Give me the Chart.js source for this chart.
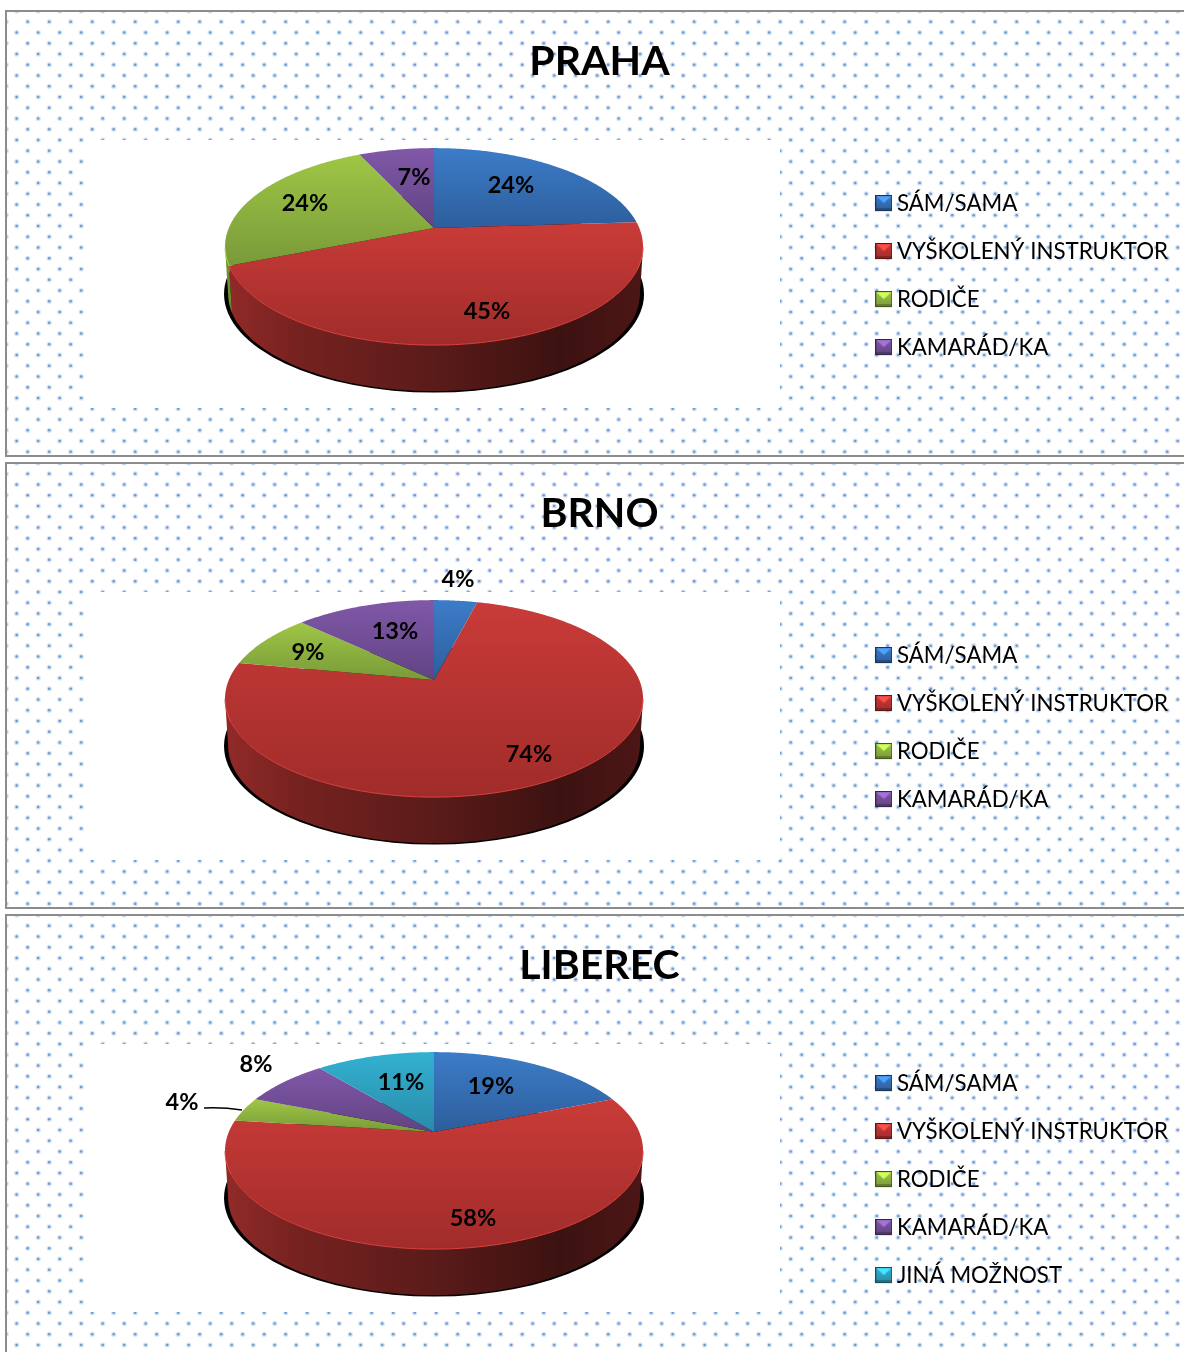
<!DOCTYPE html>
<html>
<head>
<meta charset="utf-8">
<script src="https://cdn.jsdelivr.net/npm/chart.js@4/dist/chart.umd.js"></script>
<style>
html,body{margin:0;padding:0;width:1184px;height:1352px;overflow:hidden;background:#fff}
canvas{position:absolute;left:0;display:block}
</style>
</head>
<body>
<canvas id="c0" width="1210" height="458" style="top:0"></canvas>
<canvas id="c1" width="1210" height="458" style="top:452px"></canvas>
<canvas id="c2" width="1210" height="458" style="top:904px"></canvas>
<script>
const titles = ['PRAHA', 'BRNO', 'LIBEREC'];
const categoriesShort = ['SÁM/SAMA', 'VYŠKOLENÝ INSTRUKTOR', 'RODIČE', 'KAMARÁD/KA'];
const categoriesLong = ['SÁM/SAMA', 'VYŠKOLENÝ INSTRUKTOR', 'RODIČE', 'KAMARÁD/KA', 'JINÁ MOŽNOST'];
const valuesPraha = [24, 45, 24, 7];
const valuesBrno = [4, 74, 9, 13];
const valuesLiberec = [19, 58, 4, 8, 11];

// label centres inside each panel (text placement only)
const labelsPraha = [[511,185],[487,311],[305,203],[414,177]];
const labelsBrno = [[458,127],[529,302],[308,200],[395,179]];
const labelsLiberec = [[491,182],[473,314],[182,198],[256,160],[401,178]];

const topColors = ['#3C7CC8','#C93B38','#9FC645','#8058A8','#33B1D2'];
const bottomColors = ['#2D5E9C','#A02C2A','#789A3A','#614383','#2A8AA8'];

const FONT = 'Lato, Carlito, sans-serif';
const TILT = {ry: 98.5, perspective: -0.188, centreLift: 29, centreShift: -4.5, depth: 47.5};

function rgb(h){return [1,3,5].map(i=>parseInt(h.substr(i,2),16));}
function shade(h,f){const c=rgb(h);return 'rgb('+c.map(v=>Math.min(255,Math.round(v*f))).join(',')+')';}

function bevel(i){
  const c=document.createElement('canvas');c.width=17;c.height=17;
  const x=c.getContext('2d');const w=17,h=16,t=topColors[i],b=bottomColors[i];
  const g=x.createLinearGradient(0,0,0,h);g.addColorStop(0,t);g.addColorStop(1,b);
  x.fillStyle=g;x.fillRect(0,0,w,h);
  const poly=(pts,col)=>{x.fillStyle=col;x.beginPath();pts.forEach((p,k)=>k?x.lineTo(p[0],p[1]):x.moveTo(p[0],p[1]));x.closePath();x.fill();};
  poly([[1,1],[w-1,1],[w/2,h*0.5]],shade(t,1.3));
  poly([[1,h-1],[w-1,h-1],[w-1,h-3],[1,h-3]],shade(b,0.8));
  x.strokeStyle=shade(b,0.55);x.lineWidth=1;x.strokeRect(0.5,0.5,w-1,h-1);
  return c;
}

const panelPlugin = {
  id:'panel',
  beforeDraw(chart){
    const ctx=chart.ctx;
    ctx.save();
    ctx.beginPath();ctx.rect(7,12,1203,444);ctx.clip();
    for(let k=0;k<42;k++){
      const y=11+10.75*k;
      for(let j=-1;j<57;j++){
        const x=(k%2?27.7:16.7)+21.5*j;
        ctx.fillStyle='rgba(160,192,232,0.45)';
        ctx.beginPath();ctx.arc(x,y,2.6,0,7);ctx.fill();
        ctx.fillStyle='#6F9AD2';
        ctx.beginPath();ctx.arc(x,y,1.3,0,7);ctx.fill();
      }
    }
    ctx.fillStyle='#fff';ctx.fillRect(84,140,696,268);
    ctx.restore();
    ctx.strokeStyle='#8C8C8C';ctx.lineWidth=2;
    ctx.strokeRect(6,11,1300,445);
  },
  beforeDatasetDraw(){return false;},
  afterDatasetsDraw(chart,args,opts){
    const ctx=chart.ctx, meta=chart.getDatasetMeta(0), els=meta.data;
    if(!els.length) return;
    const cx=els[0].x+TILT.centreShift, rx=els[0].outerRadius, E=els[0].y-TILT.centreLift, ry=TILT.ry, d=TILT.perspective, dep=TILT.depth;
    const k=Math.sqrt(1-d*d);
    const proj=a=>{const x=Math.cos(a),y=Math.sin(a),w=1+d*y;return [cx+rx*x*k/w,E+ry*(y+d)/w];};
    const arcPts=(s,e)=>{const n=Math.max(2,Math.ceil((e-s)/0.01)),o=[];for(let i=0;i<=n;i++)o.push(proj(s+(e-s)*i/n));return o;};

    // ground shadow
    ctx.fillStyle='#000';
    ctx.beginPath();ctx.ellipse(cx,E+dep,rx+1,ry,0,0,Math.PI*2);ctx.fill();

    // side walls
    els.forEach((el,i)=>{
      const pts=arcPts(el.startAngle,el.endAngle).filter(p=>p[1]>=E);
      if(pts.length<2) return;
      const g=ctx.createLinearGradient(cx-rx,0,cx+rx,0);
      [[0,.72],[.18,.58],[.5,.45],[.8,.30],[1,.38]].forEach(s=>g.addColorStop(s[0],shade(topColors[i],s[1])));
      ctx.fillStyle=g;ctx.beginPath();
      pts.forEach((p,n)=>n?ctx.lineTo(p[0],p[1]):ctx.moveTo(p[0],p[1]));
      pts.slice().reverse().forEach(p=>ctx.lineTo(cx+(p[0]-cx)*0.985,E+dep+(p[1]-E)*0.985));
      ctx.closePath();ctx.fill();
    });

    // top faces
    const apex=[cx,E+ry*d];
    els.forEach((el,i)=>{
      const pts=arcPts(el.startAngle,el.endAngle);
      const ys=pts.map(p=>p[1]).concat(apex[1]);
      const g=ctx.createLinearGradient(0,Math.min(...ys),0,Math.max(...ys));
      g.addColorStop(0,topColors[i]);g.addColorStop(1,bottomColors[i]);
      ctx.fillStyle=g;ctx.beginPath();ctx.moveTo(apex[0],apex[1]);
      pts.forEach(p=>ctx.lineTo(p[0],p[1]));ctx.closePath();ctx.fill();
      const front=pts.filter(p=>p[1]>=E);
      if(front.length>1){
        ctx.strokeStyle=shade(topColors[i],1.12);ctx.lineWidth=1;ctx.beginPath();
        front.forEach((p,n)=>n?ctx.lineTo(p[0],p[1]):ctx.moveTo(p[0],p[1]));ctx.stroke();
      }
    });

    // value labels
    ctx.fillStyle='#000';ctx.font='bold 23.5px '+FONT;ctx.textAlign='center';ctx.textBaseline='middle';
    chart.data.datasets[0].data.forEach((v,i)=>{
      const p=opts.labelAt[i];ctx.fillText(v+'%',p[0],p[1]);
    });
    if(opts.leader){
      ctx.strokeStyle='#000';ctx.lineWidth=1.5;ctx.beginPath();
      ctx.moveTo(opts.leader[0],opts.leader[1]);
      ctx.quadraticCurveTo(opts.leader[0]+18,opts.leader[1]-1,opts.leader[2],opts.leader[3]);ctx.stroke();
    }
  }
};

function build(id,title,cats,vals,labelAt,leader){
  new Chart(document.getElementById(id),{
    type:'pie',
    data:{labels:cats,datasets:[{data:vals,backgroundColor:topColors.slice(0,vals.length),borderWidth:0,radius:209,clip:false}]},
    plugins:[panelPlugin],
    options:{
      responsive:false,animation:false,
      layout:{padding:{left:21,right:32,bottom:6,top:0}},
      plugins:{
        tooltip:{enabled:false},
        panel:{labelAt,leader},
        title:{display:true,text:title,color:'#000',font:{family:FONT,size:41,weight:'bold',lineHeight:1.2},padding:{top:37,bottom:13}},
        legend:{position:'right',align:'center',fullSize:false,
          labels:{color:'#000',font:{family:FONT,size:22.3},boxWidth:4,padding:25.7,usePointStyle:true,
            generateLabels:c=>c.data.labels.map((t,i)=>({text:t,pointStyle:bevel(i),fontColor:'#000',lineWidth:0,index:i,hidden:false,strokeStyle:'rgba(0,0,0,0)',fillStyle:'rgba(0,0,0,0)'}))}}
      }
    }
  });
}
build('c0',titles[0],categoriesShort,valuesPraha,labelsPraha,null);
build('c1',titles[1],categoriesShort,valuesBrno,labelsBrno,null);
build('c2',titles[2],categoriesLong,valuesLiberec,labelsLiberec,[204,204,242,206]);
</script>
</body>
</html>
